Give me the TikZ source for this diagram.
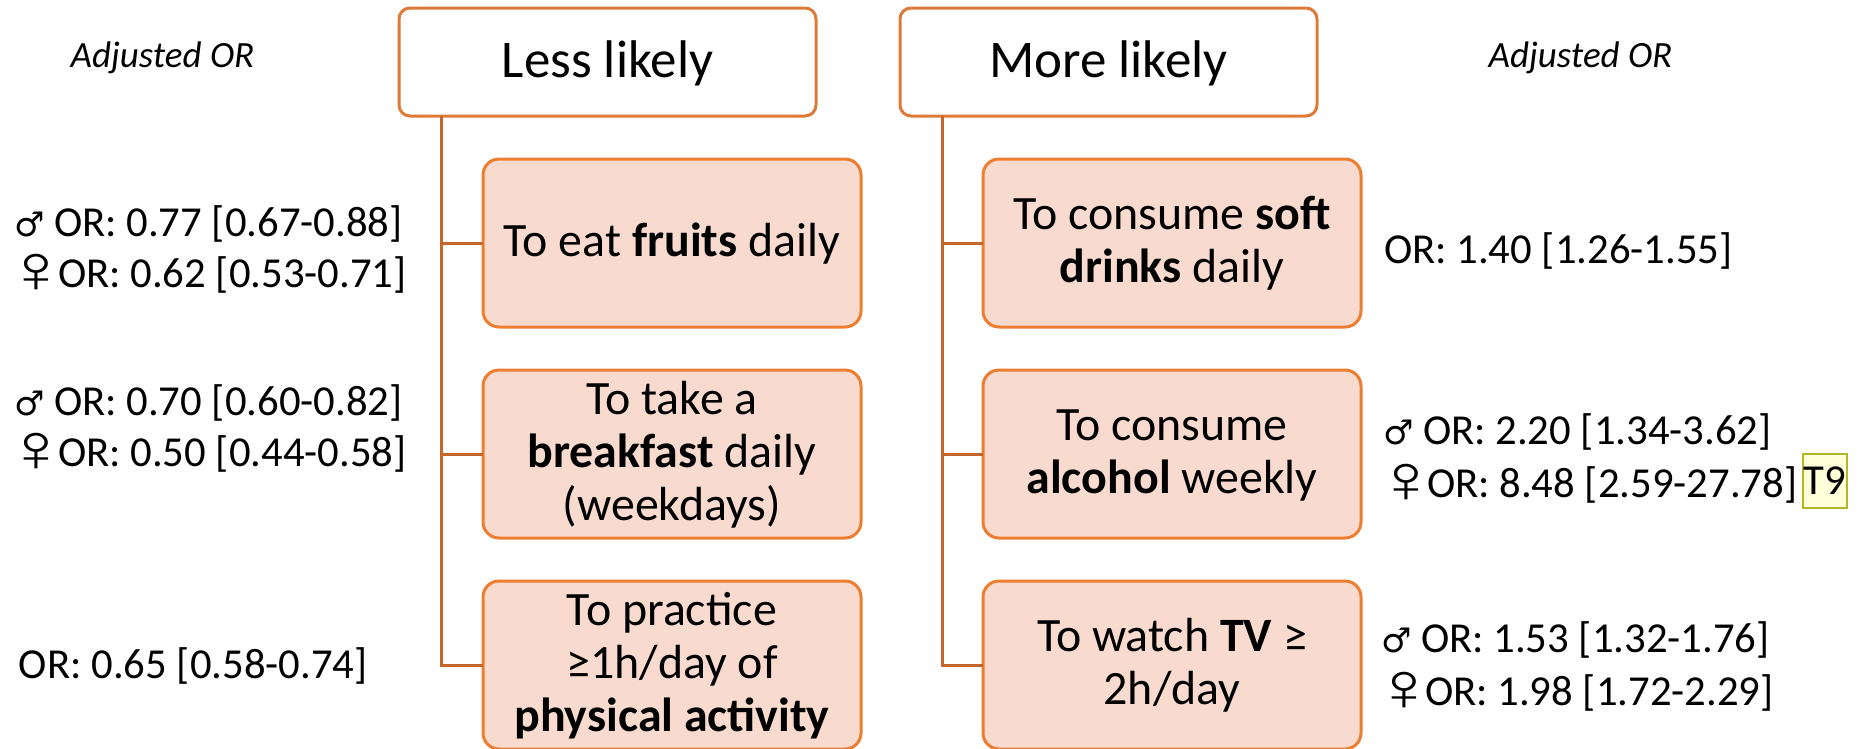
\documentclass[tikz,border=0pt]{standalone}
\usepackage{fontspec}
\usepackage{graphicx}
\setmainfont{Carlito}
\newfontfamily\symfont{DejaVu Sans}
\newfontfamily\femfont{Liberation Sans}
\definecolor{edgeor}{HTML}{ED7D31}
\definecolor{headedge}{HTML}{DE7A38}
\definecolor{linkor}{HTML}{C5662B}
\definecolor{fillor}{HTML}{F8DACF}
\definecolor{tagedge}{HTML}{B5B52A}
\definecolor{tagfill}{HTML}{FFFFD9}
\newcommand{\bodyfs}{\fontsize{47.9}{53}\selectfont}
\newcommand{\headfs}{\fontsize{53}{60}\selectfont}
\newcommand{\orfs}{\fontsize{42.7}{50}\selectfont}
\newcommand{\adjfs}{\fontsize{37}{44}\selectfont\itshape}
\newcommand{\bodystrut}{\rule[-12pt]{0pt}{50pt}}
\newcommand{\headstrut}{\rule[-14pt]{0pt}{58pt}}
\tikzset{
  headbox/.style={draw=headedge,line width=3pt,fill=white,rounded corners=11pt,minimum width=417pt,minimum height=108pt,inner sep=0pt,outer sep=0pt,font=\headfs,text=black,execute at begin node={\headstrut}},
  itembox/.style={draw=edgeor,line width=3pt,fill=fillor,rounded corners=16pt,minimum width=378pt,minimum height=168pt,inner sep=0pt,outer sep=0pt,font=\bodyfs,align=center,text=black,execute at begin node={\bodystrut}},
  link/.style={draw=linkor,line width=3pt},
  ortext/.style={anchor=base west,inner sep=0pt,outer sep=0pt,font=\orfs,text=black},
  malesym/.style={anchor=base west,inner sep=0pt,outer sep=0pt,font=\symfont\fontsize{34}{40}\selectfont,text=black},
  femalesym/.style={anchor=base west,inner sep=0pt,outer sep=0pt,yshift=-5.5pt,font=\femfont\fontsize{68}{72}\selectfont,text=black},
  adj/.style={inner sep=0pt,outer sep=0pt,font=\adjfs,text=black},
  tagbox/.style={draw=tagedge,line width=1.5pt,fill=tagfill,minimum width=44pt,minimum height=54pt,inner sep=0pt,outer sep=0pt,font=\fontsize{42.7}{50}\selectfont,text=black}
}
\newcommand{\fem}{\scalebox{1.25}[1]{♀}}
\begin{document}
\begin{tikzpicture}[x=1pt,y=-1pt]
\useasboundingbox (0,0) rectangle (1858,748);
\node[headbox] (h1) at (607.5,62) {Less likely};
\node[headbox] (h2) at (1108.5,62) {More likely};
\node[itembox] (a1) at (672,243) {To eat \textbf{fruits} daily};
\node[itembox] (a2) at (672,454) {\bodystrut To take a\\\textbf{breakfast} daily\\(weekdays)\bodystrut};
\node[itembox] (a3) at (672,665) {\bodystrut To practice\\≥1h/day of\\\textbf{physical activity}\bodystrut};
\node[itembox] (b1) at (1172,243) {\bodystrut To consume \textbf{soft}\\\textbf{drinks} daily\bodystrut};
\node[itembox] (b2) at (1172,454) {\bodystrut To consume\\\textbf{alcohol} weekly\bodystrut};
\node[itembox] (b3) at (1172,665) {\bodystrut To watch \textbf{TV} ≥\\2h/day\bodystrut};
\coordinate (t1) at (441,116);
\coordinate (t2) at (942,116);
\draw[link] (t1) |- (a1.west);
\draw[link] (t1) |- (a2.west);
\draw[link] (t1) |- (a3.west);
\draw[link] (t2) |- (b1.west);
\draw[link] (t2) |- (b2.west);
\draw[link] (t2) |- (b3.west);
\node[adj] (l0) at (162.5,58) {Adjusted OR};
\node[adj] (r0) at (1580.5,58) {Adjusted OR};
\node[malesym] (s1) at (14,236) {♂};
\node[ortext] (o1) at (54,236) {OR: 0.77 [0.67-0.88]};
\node[femalesym] (s2) at (5,287) {\fem};
\node[ortext] (o2) at (58,287) {OR: 0.62 [0.53-0.71]};
\node[malesym] (s3) at (14,415) {♂};
\node[ortext] (o3) at (54,415) {OR: 0.70 [0.60-0.82]};
\node[femalesym] (s4) at (5,466) {\fem};
\node[ortext] (o4) at (58,466) {OR: 0.50 [0.44-0.58]};
\node[ortext] (o5) at (19,678) {OR: 0.65 [0.58-0.74]};
\node[ortext] (o6) at (1384,263) {OR: 1.40 [1.26-1.55]};
\node[malesym] (s7) at (1383,444) {♂};
\node[ortext] (o7) at (1423,444) {OR: 2.20 [1.34-3.62]};
\node[femalesym] (s8) at (1374,497) {\fem};
\node[ortext] (o8) at (1427,497) {OR: 8.48 [2.59-27.78]};
\node[tagbox] (tg) at (1825,481) {T9};
\node[malesym] (s9) at (1381,652) {♂};
\node[ortext] (o9) at (1421,652) {OR: 1.53 [1.32-1.76]};
\node[femalesym] (s10) at (1372,705) {\fem};
\node[ortext] (o10) at (1425,705) {OR: 1.98 [1.72-2.29]};
\end{tikzpicture}
\end{document}
